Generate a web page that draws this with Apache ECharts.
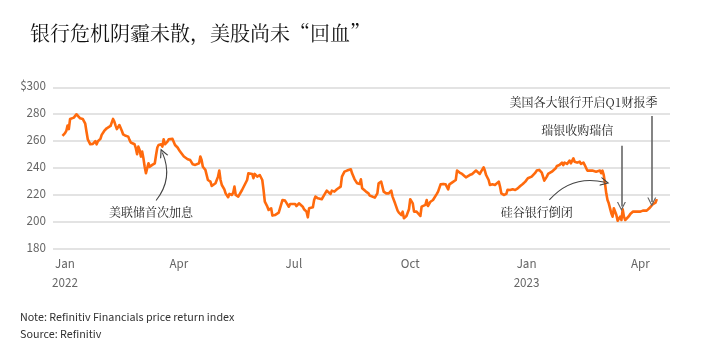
<!DOCTYPE html>
<html>
<head>
<meta charset="utf-8">
<script src="https://cdn.jsdelivr.net/npm/echarts@6/dist/echarts.min.js"></script>
<style>
html,body{margin:0;padding:0;background:#fff;}
#chart{width:703px;height:358px;}
</style>
</head>
<body>
<div id="chart"></div>
<script>
// ---- data ----
const titleText = '银行危机阴霾未散，美股尚未“回血”';
const noteText = 'Note: Refinitiv Financials price return index';
const sourceText = 'Source: Refinitiv';
const monthNames = ['Jan','Feb','Mar','Apr','May','Jun','Jul','Aug','Sep','Oct','Nov','Dec'];
const quarterMonths = [0, 3, 6, 9];
const yTicks = [180, 200, 220, 240, 260, 280, 300];

const dates = [
'2021-12-30','2022-01-01','2022-01-02','2022-01-03','2022-01-04','2022-01-05','2022-01-06','2022-01-08','2022-01-09','2022-01-10',
'2022-01-11','2022-01-13','2022-01-14','2022-01-15','2022-01-17','2022-01-18','2022-01-19','2022-01-21','2022-01-23','2022-01-24',
'2022-01-25','2022-01-26','2022-01-27','2022-01-29','2022-01-30','2022-02-01','2022-02-02','2022-02-03','2022-02-04','2022-02-06',
'2022-02-07','2022-02-08','2022-02-09','2022-02-10','2022-02-11','2022-02-12','2022-02-13','2022-02-15','2022-02-16','2022-02-18',
'2022-02-20','2022-02-21','2022-02-22','2022-02-23','2022-02-25','2022-02-26','2022-02-27','2022-02-28','2022-03-01','2022-03-02',
'2022-03-03','2022-03-04','2022-03-05','2022-03-06','2022-03-07','2022-03-08','2022-03-09','2022-03-11','2022-03-13','2022-03-14',
'2022-03-15','2022-03-16','2022-03-18','2022-03-19','2022-03-20','2022-03-21','2022-03-23','2022-03-24','2022-03-25','2022-03-27',
'2022-03-28','2022-03-29','2022-03-31','2022-04-02','2022-04-03','2022-04-05','2022-04-06','2022-04-08','2022-04-10','2022-04-11',
'2022-04-12','2022-04-14','2022-04-15','2022-04-17','2022-04-18','2022-04-19','2022-04-20','2022-04-22','2022-04-23','2022-04-24',
'2022-04-26','2022-04-27','2022-04-28','2022-04-30','2022-05-02','2022-05-03','2022-05-04','2022-05-05','2022-05-07','2022-05-08',
'2022-05-10','2022-05-11','2022-05-13','2022-05-14','2022-05-15','2022-05-16','2022-05-18','2022-05-19','2022-05-21','2022-05-22',
'2022-05-23','2022-05-25','2022-05-26','2022-05-27','2022-05-29','2022-05-30','2022-05-31','2022-06-02','2022-06-03','2022-06-04',
'2022-06-06','2022-06-07','2022-06-08','2022-06-10','2022-06-11','2022-06-12','2022-06-13','2022-06-14','2022-06-16','2022-06-17',
'2022-06-19','2022-06-20','2022-06-21','2022-06-22','2022-06-24','2022-06-25','2022-06-27','2022-06-28','2022-06-30','2022-07-02',
'2022-07-03','2022-07-05','2022-07-06','2022-07-08','2022-07-09','2022-07-11','2022-07-12','2022-07-13','2022-07-14','2022-07-16',
'2022-07-17','2022-07-18','2022-07-20','2022-07-21','2022-07-23','2022-07-25','2022-07-26','2022-07-27','2022-07-28','2022-07-30',
'2022-07-31','2022-08-02','2022-08-04','2022-08-05','2022-08-07','2022-08-08','2022-08-10','2022-08-12','2022-08-13','2022-08-15',
'2022-08-16','2022-08-18','2022-08-20','2022-08-22','2022-08-23','2022-08-24','2022-08-25','2022-08-27','2022-08-29','2022-08-30',
'2022-09-01','2022-09-02','2022-09-03','2022-09-05','2022-09-06','2022-09-08','2022-09-09','2022-09-10','2022-09-12','2022-09-13',
'2022-09-14','2022-09-16','2022-09-17','2022-09-19','2022-09-21','2022-09-22','2022-09-24','2022-09-25','2022-09-26','2022-09-28',
'2022-09-30','2022-10-01','2022-10-03','2022-10-04','2022-10-06','2022-10-07','2022-10-09','2022-10-10','2022-10-11','2022-10-13',
'2022-10-14','2022-10-15','2022-10-17','2022-10-19','2022-10-20','2022-10-22','2022-10-23','2022-10-24','2022-10-25','2022-10-27',
'2022-10-29','2022-10-30','2022-10-31','2022-11-01','2022-11-03','2022-11-04','2022-11-06','2022-11-07','2022-11-08','2022-11-09',
'2022-11-11','2022-11-12','2022-11-14','2022-11-15','2022-11-17','2022-11-19','2022-11-20','2022-11-22','2022-11-23','2022-11-25',
'2022-11-26','2022-11-28','2022-11-29','2022-11-30','2022-12-02','2022-12-03','2022-12-05','2022-12-07','2022-12-08','2022-12-10',
'2022-12-11','2022-12-12','2022-12-14','2022-12-16','2022-12-17','2022-12-19','2022-12-21','2022-12-23','2022-12-25','2022-12-27',
'2022-12-29','2022-12-31','2023-01-02','2023-01-03','2023-01-05','2023-01-06','2023-01-08','2023-01-09','2023-01-11','2023-01-13',
'2023-01-14','2023-01-15','2023-01-17','2023-01-18','2023-01-19','2023-01-21','2023-01-22','2023-01-24','2023-01-25','2023-01-26',
'2023-01-27','2023-01-28','2023-01-29','2023-01-30','2023-01-31','2023-02-02','2023-02-04','2023-02-05','2023-02-06','2023-02-07',
'2023-02-08','2023-02-10','2023-02-12','2023-02-13','2023-02-15','2023-02-16','2023-02-18','2023-02-20','2023-02-22','2023-02-23',
'2023-02-25','2023-02-26','2023-02-28','2023-03-01','2023-03-02','2023-03-03','2023-03-04','2023-03-05','2023-03-06','2023-03-07',
'2023-03-08','2023-03-09','2023-03-10','2023-03-11','2023-03-13','2023-03-14','2023-03-15','2023-03-16','2023-03-17','2023-03-18',
'2023-03-19','2023-03-20','2023-03-21','2023-03-23','2023-03-24','2023-03-26','2023-03-27','2023-03-29','2023-03-30','2023-04-01',
'2023-04-03','2023-04-04','2023-04-06','2023-04-07','2023-04-08','2023-04-09','2023-04-11','2023-04-13','2023-04-14'
];

const values = [
264,266,267.6,271.6,269,276.5,277.5,277.5,278.8,280,
279,277,276.5,276.5,273,267,261.4,257.7,258,258.5,
260,257.7,260,261.7,264.7,267.6,266.6,269.6,270.3,271.3,
274,276.5,274.5,271.6,269,270,272,267.6,265,264,
263.4,261,259,259.7,257.7,254.8,250.3,256,253.5,248.6,
252.3,247.3,241,236.2,240,243.6,241,242.4,243.6,249.8,
255.3,257.2,257.7,256,261.4,257.7,259.7,261.4,260.2,261.7,
261,257.2,255.3,252.3,251,248.6,247.3,246.6,246,245.3,
242.9,242.4,242,243.6,248.6,246,241,238.7,238,231.2,
230,226.8,227.5,228.8,233.7,238.2,231.2,227.5,224.3,221.3,
218.4,220.9,220.1,221.8,226.3,220.1,218.9,220.1,223.8,224.3,
227.5,231.2,236.2,236.2,235.7,232.5,235.7,233.7,234.2,234.9,
231.2,223.8,215.1,211.4,209,207.7,210.2,204.8,205.2,205.2,
207,210.2,209,216.4,215.9,214.4,211.4,213.4,213.4,213.4,
211.9,213.9,212.7,211.4,209.5,207.7,203.5,210.2,210.9,210.9,
216.4,218.9,217.6,218.9,216.9,220.1,218.9,223.3,222.6,220.9,
223.3,222.6,224.3,224.3,226.3,233.7,237.4,238.2,238.2,239.2,
236.2,231.7,228.8,228.3,231.7,225,223.8,222.6,221.3,219.6,
218.9,218.9,218.1,221.3,228.8,230,230.7,222.6,221.3,222.6,
221.3,223.3,218.9,213.9,208.5,207,205.2,207.7,202.8,204.5,
209.5,216.9,213.9,207.7,207.7,207,204.5,211.4,210.2,212.7,
216.4,211.9,215.1,216.4,217.6,220.9,222.6,223.3,228,228.3,
228,229.3,224.3,228,229.3,230,231.2,238.2,239.2,236.7,
235.7,236.7,233.2,234.2,234.9,235.7,236.7,238.2,238.7,235.7,
237.4,240.6,238.2,234.9,231.2,227.5,228,227.5,228.3,230,
226.3,221.3,220.1,220.9,224,223.8,224.3,223.8,225,226.8,
228.3,230,232.5,231.7,233.7,233.2,236.7,238.2,238.7,236.7,
235.7,230.7,233.7,235.7,236.7,237.4,237.4,239.9,241.6,240.6,
242.3,243.6,244.1,242.3,244.1,243.1,245.6,243.6,244.8,247.3,
244.8,244.1,244.8,243.1,244.1,242.3,238.2,238.2,238.2,238.2,
237.4,236.7,238.2,236.2,238.2,235,228.8,221.3,216.4,213.9,
210.2,206.5,204,210.2,205.2,201,202,204,201.5,209.5,
204,201.5,202,204.5,206,207.7,208.5,207.7,206.5,207.7,
208.5,209,208.5,209.5,210.2,211.4,213.4,214.4,217
];

// annotation labels: [date, value, text]
const noteLabels = [
  ['2022-03-10', 207.4, '美联储首次加息'],
  ['2023-01-09', 207.5, '硅谷银行倒闭'],
  ['2023-02-10', 268.3, '瑞银收购瑞信'],
  ['2023-02-15', 288.6, '美国各大银行开启Q1财报季']
];
// annotation arrows: [fromDate, fromValue, toDate, toValue, curveness]
const noteArrows = [
  ['2022-03-14', 216.0, '2022-03-19', 251.5, -0.3],
  ['2023-01-19', 216.4, '2023-03-04', 229.5, 0.3],
  ['2023-03-17', 256.7, '2023-03-17', 211.5, 0],
  ['2023-04-10', 278.7, '2023-04-10', 214.8, 0]
];

// ---- chart ----
const chart = echarts.init(document.getElementById('chart'), null, {renderer: 'canvas'});
function ts(s) { const p = s.split('-'); return new Date(+p[0], +p[1] - 1, +p[2]).getTime(); }
const seriesData = dates.map((d, i) => [ts(d), values[i]]);
const cjk = "'Noto Serif CJK SC','Noto Sans CJK SC',serif";
const latin = "'Source Sans Pro','Source Sans 3',Lato,'Noto Sans',sans-serif";
const chevron = 'path://M0,10 L5,0 L10,10 L8.6,10 L5,2.9 L1.4,10 Z';

const option = {
  animation: false,
  backgroundColor: '#fff',
  title: [
    {
      text: titleText, left: 30, top: 23, padding: 0,
      textStyle: {fontFamily: cjk, fontSize: 20, fontWeight: 'normal', color: '#111'}
    },
    {
      text: noteText + '\n' + sourceText, left: 20, top: 310, padding: 0,
      textStyle: {fontFamily: latin, fontSize: 12, fontWeight: 'normal', color: '#333', lineHeight: 17}
    }
  ],
  grid: {left: 53, right: 33, top: 87.3, bottom: 109, containLabel: false},
  xAxis: {
    type: 'time',
    min: new Date(2021, 11, 22, 12).getTime(),
    max: new Date(2023, 3, 24, 10).getTime(),
    minInterval: 28 * 86400000,
    maxInterval: 31 * 86400000,
    axisLine: {show: false},
    axisTick: {show: false},
    splitLine: {show: false},
    axisLabel: {
      color: '#666', fontSize: 13, fontFamily: latin, lineHeight: 19, margin: 7,
      showMinLabel: false, showMaxLabel: false, hideOverlap: false,
      formatter: function (v) {
        const d = new Date(v);
        if (d.getDate() !== 1 || d.getHours() !== 0 || quarterMonths.indexOf(d.getMonth()) < 0) return '';
        const m = monthNames[d.getMonth()];
        return d.getMonth() === 0 ? m + '\n' + d.getFullYear() : m;
      }
    }
  },
  yAxis: {
    type: 'value',
    min: yTicks[0], max: yTicks[yTicks.length - 1], interval: 20,
    axisLine: {show: false},
    axisTick: {show: false},
    splitLine: {lineStyle: {color: '#dadada', width: 1.6}},
    axisLabel: {
      color: '#666', fontSize: 13, fontFamily: latin, margin: 7,
      formatter: v => (v === yTicks[yTicks.length - 1] ? '$' + v : '' + v)
    }
  },
  series: [
    {
      type: 'line',
      data: seriesData,
      showSymbol: false,
      symbol: 'none',
      lineStyle: {color: '#ff6a0d', width: 2.6, join: 'round'},
      itemStyle: {color: '#ff6a0d'},
      z: 3,
      markPoint: {
        silent: true,
        symbol: 'circle', symbolSize: 0,
        label: {show: true, position: 'inside', color: '#222', fontSize: 12, fontFamily: cjk},
        data: noteLabels.map(n => ({coord: [ts(n[0]), n[1]], value: n[2], label: {formatter: n[2]}}))
      }
    },
    {
      type: 'lines',
      coordinateSystem: 'cartesian2d',
      silent: true,
      z: 4,
      symbol: ['none', chevron],
      symbolSize: 9,
      data: noteArrows.map((a, i) => ({
        coords: [[ts(a[0]), a[1]], [ts(a[2]), a[3]]],
        lineStyle: {color: i < 2 ? '#444' : '#666', width: i < 2 ? 1.1 : 1.6, curveness: a[4], opacity: 1}
      }))
    }
  ]
};
chart.setOption(option);
</script>
</body>
</html>
